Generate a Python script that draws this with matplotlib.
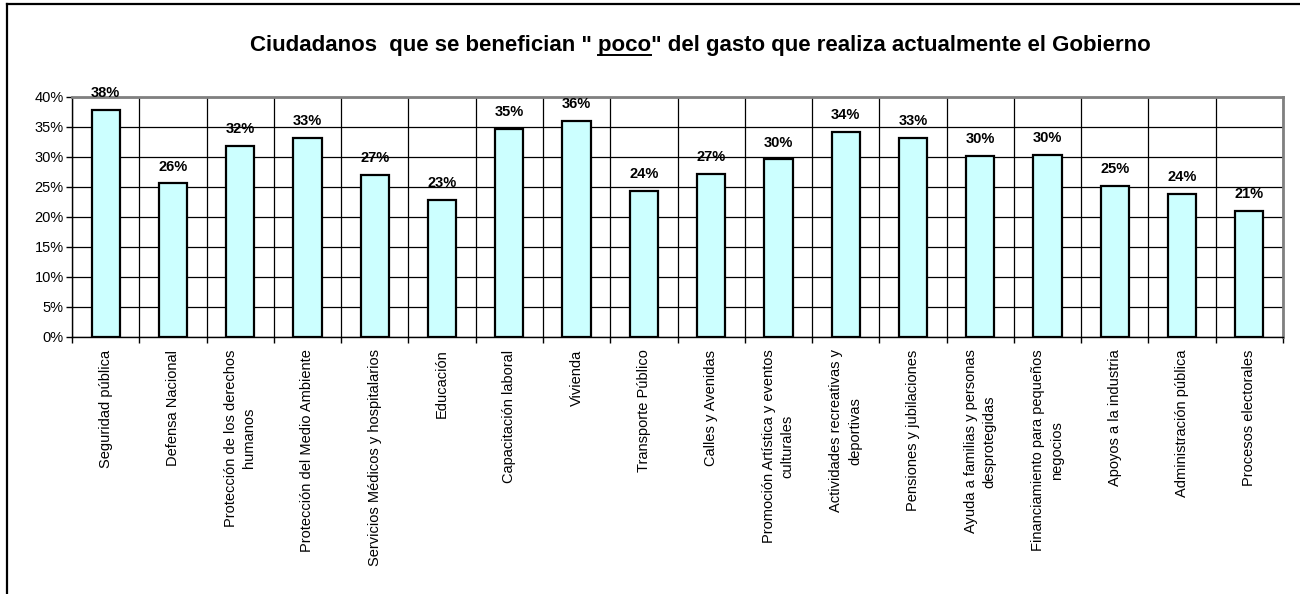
import numpy as np
import matplotlib
matplotlib.use("Agg")
from matplotlib import pyplot as plt
from matplotlib.lines import Line2D

plt.rcParams['font.family'] = ['Liberation Sans', 'DejaVu Sans']

# Data
categories = [
    "Seguridad pública",
    "Defensa Nacional",
    "Protección de los derechos\nhumanos",
    "Protección del Medio Ambiente",
    "Servicios Médicos y hospitalarios",
    "Educación",
    "Capacitación laboral",
    "Vivienda",
    "Transporte Público",
    "Calles y Avenidas",
    "Promoción Artística y eventos\nculturales",
    "Actividades recreativas y\ndeportivas",
    "Pensiones y jubilaciones",
    "Ayuda a familias y personas\ndesprotegidas",
    "Financiamiento para pequeños\nnegocios",
    "Apoyos a la industria",
    "Administración pública",
    "Procesos electorales",
]
values = [37.8, 25.6, 31.9, 33.2, 27.0, 22.9, 34.7, 36.0, 24.3,
          27.2, 29.6, 34.2, 33.2, 30.2, 30.4, 25.2, 23.9, 21.0]
yticks = [0, 5, 10, 15, 20, 25, 30, 35, 40]

title_pre = 'Ciudadanos  que se benefician " '
title_mid = 'poco'
title_post = '" del gasto que realiza actualmente el Gobierno'

fig = plt.figure(figsize=(13, 5.94), dpi=100)
ax = fig.add_axes([72/1300, 1 - 337/594, (1283 - 72)/1300, 240/594])

x = np.arange(len(categories))
bars = ax.bar(x, values, width=0.42, color='#CCFFFF', edgecolor='black',
              linewidth=1.6, zorder=3)

for xi, v in zip(x, values):
    ax.annotate(f"{v:.0f}%", (xi, v), xytext=(0, 7), textcoords='offset points',
                ha='center', va='bottom', fontsize=10.5, fontweight='bold', zorder=4)

ax.set_xlim(-0.5, len(categories) - 0.5)
ax.set_ylim(0, 40)
ax.set_yticks(yticks)
ax.set_yticklabels([f"{t}%" for t in yticks], fontsize=10.5)

# boundaries as major ticks (grid), names as minor ticks
ax.set_xticks(np.arange(-0.5, len(categories), 1.0))
ax.set_xticklabels([])
ax.set_xticks(x, minor=True)
ax.set_xticklabels(categories, minor=True, rotation=90, fontsize=10.5,
                   va='top', ha='center', multialignment='center',
                   linespacing=1.4)
ax.tick_params(axis='x', which='minor', length=0, pad=9)
ax.tick_params(axis='x', which='major', length=4, direction='out', width=1)
ax.tick_params(axis='y', length=4, direction='out', width=1, pad=2)

ax.grid(True, which='major', color='black', linewidth=0.9, zorder=0)
ax.set_axisbelow(True)
for side in ['top', 'right']:
    ax.spines[side].set_color('#808080')
    ax.spines[side].set_linewidth(2)
for side in ['left', 'bottom']:
    ax.spines[side].set_color('black')
    ax.spines[side].set_linewidth(1)

# title with underlined "poco"
fig.canvas.draw()
r = fig.canvas.get_renderer()
tkw = dict(fontsize=16, fontweight='bold', va='baseline', ha='left')
probe = fig.text(0, 0, title_pre + title_mid + title_post, **tkw)
full_w = probe.get_window_extent(r).width
probe.set_text(title_pre)
pre_w = probe.get_window_extent(r).width
probe.set_text(title_pre + title_mid)
mid_end = probe.get_window_extent(r).width
probe.remove()

cx = 700
base_y = 594 - 51
x0 = cx - full_w / 2
fig.text(x0 / 1300, base_y / 594, title_pre + title_mid + title_post, **tkw)
fig.add_artist(Line2D([(x0 + pre_w) / 1300, (x0 + mid_end) / 1300],
                      [(base_y - 4) / 594, (base_y - 4) / 594],
                      color='black', linewidth=1.4))

# outer frame (left and top edges)
fig.add_artist(Line2D([6.5/1300, 6.5/1300], [0, 1 - 3.5/594], color='black', linewidth=1.6))
fig.add_artist(Line2D([6.5/1300, 1], [1 - 3.5/594, 1 - 3.5/594], color='black', linewidth=1.6))

fig.savefig("out.png", dpi=100)
